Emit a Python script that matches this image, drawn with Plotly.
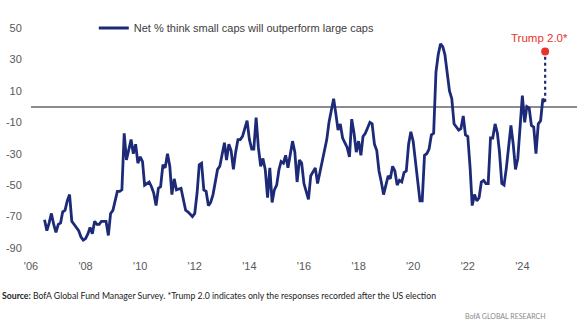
import plotly.graph_objects as go

# Monthly survey: net % of fund managers who think small caps will outperform large caps
months = [
    "2006-07", "2006-08", "2006-09", "2006-10", "2006-11", "2006-12",
    "2007-01", "2007-02", "2007-03", "2007-04", "2007-05", "2007-06", "2007-07", "2007-08", "2007-10", "2007-11", "2007-12",
    "2008-01", "2008-02", "2008-03", "2008-04", "2008-05", "2008-06", "2008-07", "2008-08", "2008-09", "2008-10", "2008-11", "2008-12",
    "2009-01", "2009-02", "2009-03", "2009-04", "2009-05", "2009-06", "2009-07", "2009-09", "2009-10", "2009-11", "2009-12",
    "2010-01", "2010-02", "2010-03", "2010-05", "2010-06", "2010-07", "2010-08", "2010-09", "2010-10", "2010-11", "2010-12",
    "2011-01", "2011-02", "2011-03", "2011-04", "2011-05", "2011-07", "2011-08", "2011-09", "2011-10", "2011-12",
    "2012-01", "2012-02", "2012-03", "2012-04", "2012-05", "2012-06", "2012-07", "2012-08", "2012-09", "2012-11", "2012-12",
    "2013-01", "2013-02", "2013-03", "2013-04", "2013-05", "2013-06", "2013-07", "2013-08", "2013-09", "2013-10", "2013-12",
    "2014-01", "2014-02", "2014-03", "2014-04", "2014-05", "2014-06", "2014-07", "2014-08", "2014-09", "2014-10", "2014-11", "2014-12",
    "2015-01", "2015-02", "2015-03", "2015-04", "2015-05", "2015-06", "2015-08", "2015-09", "2015-10", "2015-11", "2015-12",
    "2016-01", "2016-03", "2016-04", "2016-05", "2016-06", "2016-07", "2016-08", "2016-10", "2016-11", "2016-12",
    "2017-02", "2017-03", "2017-04", "2017-05", "2017-06", "2017-08", "2017-09", "2017-10", "2017-11", "2017-12",
    "2018-01", "2018-02", "2018-03", "2018-04", "2018-05", "2018-06", "2018-07", "2018-08", "2018-09", "2018-10", "2018-11", "2018-12",
    "2019-01", "2019-02", "2019-03", "2019-04", "2019-05", "2019-06", "2019-07", "2019-08", "2019-09", "2019-10", "2019-11", "2019-12",
    "2020-01", "2020-02", "2020-03", "2020-04", "2020-05", "2020-06", "2020-07", "2020-08", "2020-09", "2020-10", "2020-11", "2020-12",
    "2021-01", "2021-02", "2021-03", "2021-04", "2021-05", "2021-06", "2021-07", "2021-08", "2021-09", "2021-10", "2021-11", "2021-12",
    "2022-01", "2022-02", "2022-03", "2022-04", "2022-05", "2022-06", "2022-07", "2022-08", "2022-09", "2022-10", "2022-11", "2022-12",
    "2023-01", "2023-02", "2023-03", "2023-04", "2023-05", "2023-06", "2023-07", "2023-08", "2023-09", "2023-10", "2023-11", "2023-12",
    "2024-01", "2024-02", "2024-03", "2024-04", "2024-05", "2024-06", "2024-07", "2024-08", "2024-09", "2024-10", "2024-11",
]
net_pct = [
    -72, -79, -74, -68, -75, -80,
    -75, -74, -67, -66, -60, -56, -73, -75, -79, -83, -85,
    -84, -81, -77, -81, -73, -75, -75, -73, -73, -73, -82, -68,
    -66, -60, -54, -54, -53, -17, -34, -21, -30, -24, -36,
    -32, -35, -50, -48, -51, -55, -63, -52, -51, -37, -39,
    -30, -38, -56, -46, -53, -52, -60, -66, -67, -70,
    -68, -55, -37, -36, -53, -54, -63, -61, -56, -40, -38,
    -30, -23, -34, -24, -28, -40, -29, -21, -21, -19, -9,
    -21, -27, -27, -7, -26, -38, -33, -40, -58, -39, -61, -53,
    -50, -40, -35, -36, -31, -39, -22, -29, -48, -34, -36,
    -49, -59, -44, -41, -39, -49, -42, -29, -21, -10,
    5, -4, -15, -11, -20, -26, -32, -8, -17, -29,
    -22, -31, -19, -17, -14, -10, -11, -24, -28, -41, -48, -56,
    -50, -44, -46, -38, -41, -50, -47, -48, -42, -41, -24, -16,
    -22, -35, -50, -60, -60, -31, -30, -27, -18, -17, 22, 33,
    40, 38, 33, 22, 10, 5, -11, -13, -15, -14, -6, -18,
    -19, -39, -63, -56, -60, -58, -48, -47, -49, -49, -20, -20,
    -11, -17, -29, -49, -50, -39, -24, -12, -24, -40, -33, -12,
    7, -10, 0, -1, -12, -13, -30, -11, -9, 5, 3,
]

# Post-election (Trump 2.0) reading of the November 2024 survey
trump_month = "2024-11"
trump_value = 35
trump_label = "Trump 2.0*"

series_name = "Net % think small caps will outperform large caps"
y_ticks = [50, 30, 10, -10, -30, -50, -70, -90]
y_tick_text = ["50", "30", "10", "-10", "-30", "-50", "-70", "-90"]
source_note = ("<b>Source:</b> BofA Global Fund Manager Survey. *Trump 2.0 indicates only "
               "the responses recorded after the US election")
brand = "BofA GLOBAL RESEARCH"

NAVY = "#1c2a78"
RED = "#e8322b"

fig = go.Figure()

fig.add_trace(go.Scatter(
    x=months, y=net_pct, mode="lines", name=series_name,
    line=dict(color=NAVY, width=2.8), showlegend=True,
))

# dotted jump from the full November reading to the post-election reading
fig.add_trace(go.Scatter(
    x=[months[-1], trump_month], y=[net_pct[-1], trump_value], mode="lines",
    line=dict(color=NAVY, width=2.2, dash="dot"), showlegend=False,
))
fig.add_trace(go.Scatter(
    x=[trump_month], y=[trump_value], mode="markers",
    marker=dict(color=RED, size=8), showlegend=False,
))

fig.add_annotation(
    x=trump_month, y=trump_value, text=trump_label, showarrow=False,
    xanchor="center", yanchor="bottom", xshift=-6, yshift=6,
    font=dict(family="Liberation Sans, Arial", size=11.5, color=RED),
)

fig.add_annotation(
    xref="paper", yref="paper", x=-31 / 546, y=-0.218, xanchor="left", yanchor="middle",
    text=source_note, showarrow=False,
    font=dict(family="Lato", size=8.7, color="#222222"),
)
fig.add_annotation(
    xref="paper", yref="paper", x=1 - 29 / 546, y=-0.31, xanchor="right", yanchor="middle",
    text=brand, showarrow=False,
    font=dict(family="Lato", size=7, color="#8a8a8a"),
)

fig.update_layout(
    width=577, height=326,
    margin=dict(l=31, r=0, t=28, b=78),
    paper_bgcolor="white", plot_bgcolor="white",
    font=dict(family="Liberation Sans, Arial", size=11, color="#595959"),
    showlegend=True,
    legend=dict(
        orientation="h", x=0.115, xanchor="left", y=1.0, yanchor="middle",
        font=dict(family="Liberation Sans, Arial", size=11, color="#404040"),
        itemwidth=30, bgcolor="rgba(0,0,0,0)",
    ),
    xaxis=dict(
        type="date", range=["2006-01-01", "2026-01-01"],
        tick0="2006-01-01", dtick="M24", tickformat="'%y",
        ticks="outside", ticklen=8, tickcolor="rgba(0,0,0,0)",
        showgrid=False, zeroline=False, showline=False,
    ),
    yaxis=dict(
        range=[-90, 50], tickvals=y_ticks, ticktext=y_tick_text,
        ticks="outside", ticklen=6, tickcolor="rgba(0,0,0,0)",
        showgrid=False, showline=False,
        zeroline=True, zerolinecolor="#8c8c8c", zerolinewidth=1.6,
    ),
)

fig.write_html("out.html")
